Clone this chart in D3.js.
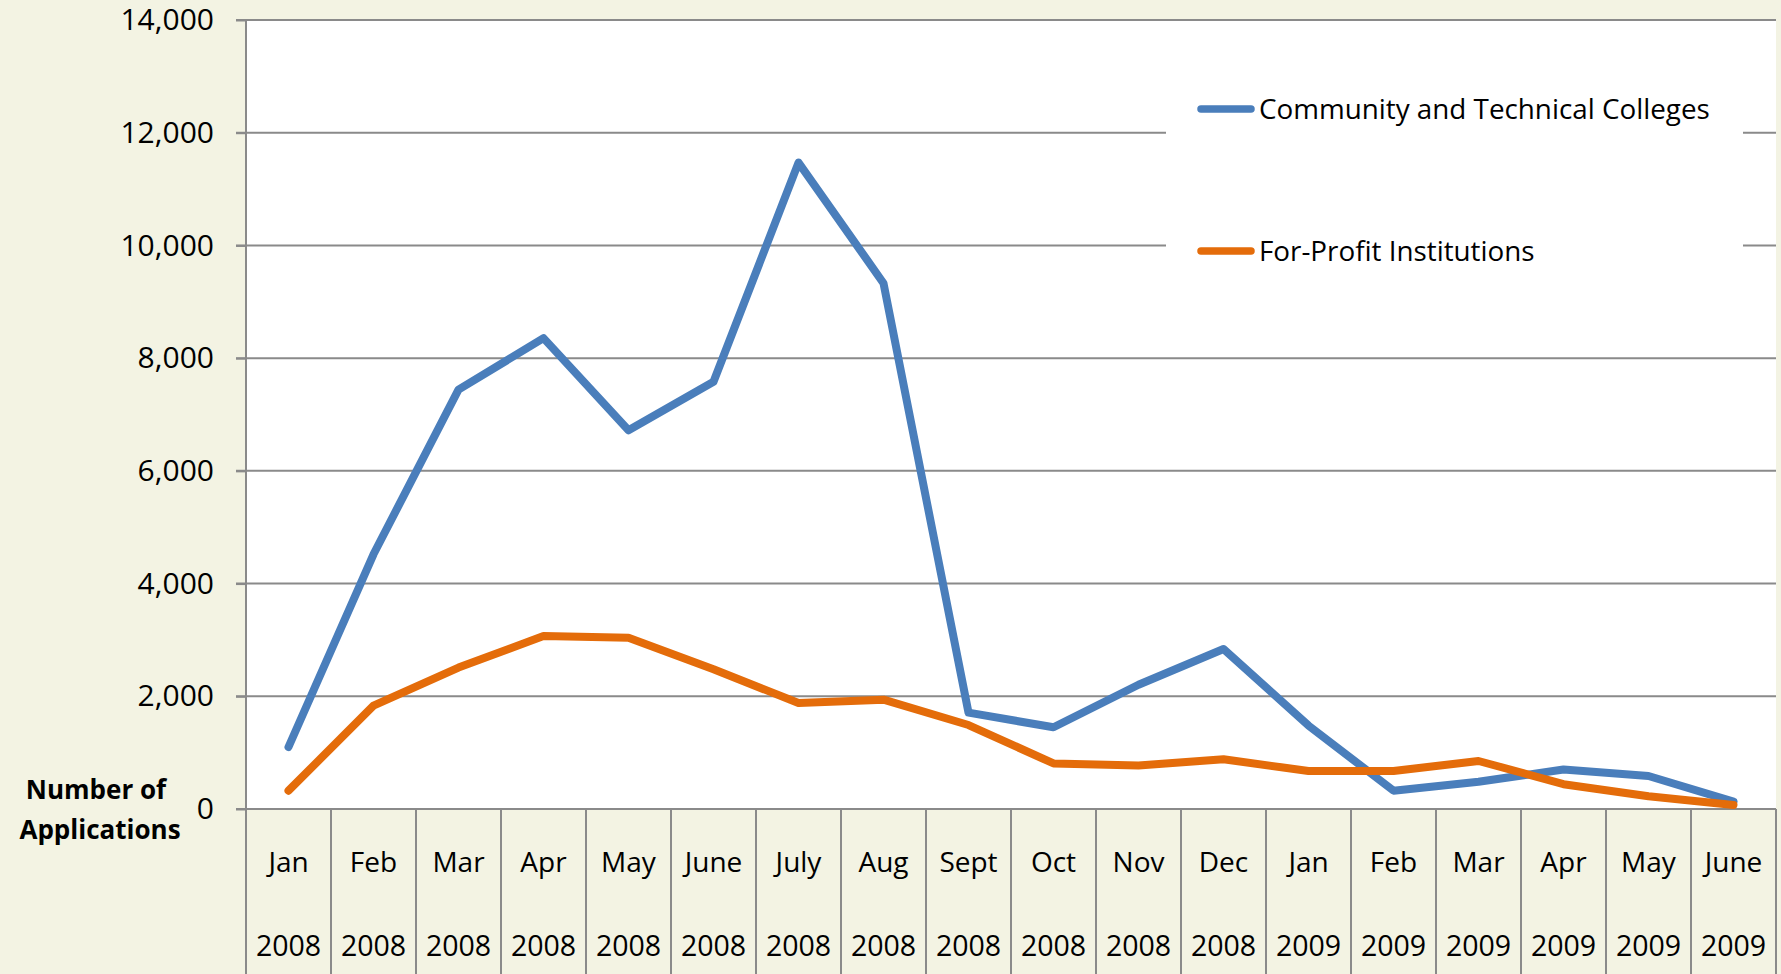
<html>
<head>
<script src="https://cdn.jsdelivr.net/npm/d3@7"></script>
<style>
  body { margin:0; background:#f3f3e3; }
  svg text { font-family:"Open Sans", "Noto Sans", sans-serif; fill:#000; }
</style>
</head>
<body>
<div id="chart"></div>
<script>
// months and years for the two-row category axis
var months = ["Jan","Feb","Mar","Apr","May","June","July","Aug","Sept","Oct","Nov","Dec",
              "Jan","Feb","Mar","Apr","May","June"];
var years  = ["2008","2008","2008","2008","2008","2008","2008","2008","2008","2008","2008","2008",
              "2009","2009","2009","2009","2009","2009"];
var yTicks = [0, 2000, 4000, 6000, 8000, 10000, 12000, 14000];

// series values
var community = [1100, 4520, 7440, 8355, 6720, 7580, 11470, 9330, 1710, 1450, 2205, 2840,
                 1480, 325, 485, 700, 585, 130];
var forProfit = [325, 1834, 2510, 3070, 3040, 2480, 1880, 1940, 1490, 808, 770, 882,
                 675, 675, 852, 440, 225, 72];

var seriesNames = ["Community and Technical Colleges", "For-Profit Institutions"];
var seriesColors = ["#4a7ebb", "#e46c0a"];

var W = 1781, H = 974;
var pL = 246, pR = 1776, pT = 20, pB = 809;

var svg = d3.select("#chart").append("svg")
  .attr("width", W).attr("height", H);

svg.append("rect").attr("width", W).attr("height", H).attr("fill", "#f3f3e3");

var x = d3.scaleBand().domain(d3.range(months.length)).range([pL, pR]).paddingInner(0).paddingOuter(0);
var y = d3.scaleLinear().domain([0, 14000]).range([pB, pT]);

// plot area
svg.append("rect")
  .attr("x", pL).attr("y", pT)
  .attr("width", pR - pL).attr("height", pB - pT)
  .attr("fill", "#fff");

// gridlines
svg.append("g").selectAll("line")
  .data(yTicks.filter(function(d){ return d > 0; }))
  .enter().append("line")
    .attr("x1", pL - 10).attr("x2", pR)
    .attr("y1", function(d){ return y(d); })
    .attr("y2", function(d){ return y(d); })
    .attr("stroke", "#8a8a8a").attr("stroke-width", 2);

// y axis
var yAxis = svg.append("g")
  .attr("transform", "translate(" + pL + ",0)")
  .call(d3.axisLeft(y).tickValues(yTicks).tickFormat(d3.format(",")).tickSize(10).tickPadding(22));
yAxis.select(".domain").attr("stroke", "#8a8a8a").attr("stroke-width", 2)
  .attr("d", "M0," + pT + "V" + H);
yAxis.selectAll(".tick line").attr("stroke", "#8a8a8a").attr("stroke-width", 2);
yAxis.selectAll(".tick text").style("font-size", "30px").attr("font-family", null);

// x axis: baseline plus category separators
svg.append("line")
  .attr("x1", pL - 10).attr("x2", pR)
  .attr("y1", pB).attr("y2", pB)
  .attr("stroke", "#8a8a8a").attr("stroke-width", 2);

svg.append("g").selectAll("line")
  .data(d3.range(1, months.length + 1))
  .enter().append("line")
    .attr("x1", function(i){ return i < months.length ? x(i) : pR; })
    .attr("x2", function(i){ return i < months.length ? x(i) : pR; })
    .attr("y1", pB).attr("y2", H)
    .attr("stroke", "#8a8a8a").attr("stroke-width", 2);

var cats = svg.append("g").selectAll("g")
  .data(months)
  .enter().append("g")
    .attr("transform", function(d, i){ return "translate(" + (x(i) + x.bandwidth() / 2) + ",0)"; });

cats.append("text")
  .attr("y", 862).attr("dy", "0.35em")
  .attr("text-anchor", "middle")
  .style("font-size", "28px")
  .text(function(d){ return d; });

cats.append("text")
  .attr("y", 946).attr("dy", "0.35em")
  .attr("text-anchor", "middle")
  .style("font-size", "28.5px")
  .text(function(d, i){ return years[i]; });

// axis title
var title = svg.append("text")
  .attr("text-anchor", "middle")
  .style("font-size", "26px").style("font-weight", "bold");
title.append("tspan").attr("x", 96).attr("y", 790).attr("dy", "0.35em").text("Number of");
title.append("tspan").attr("x", 100).attr("y", 830).attr("dy", "0.35em").text("Applications");

// lines
var line = d3.line()
  .x(function(d, i){ return x(i) + x.bandwidth() / 2; })
  .y(function(d){ return y(d); });

[community, forProfit].forEach(function(s, k){
  svg.append("path")
    .datum(s)
    .attr("d", line)
    .attr("fill", "none")
    .attr("stroke", seriesColors[k])
    .attr("stroke-width", 8)
    .attr("stroke-linejoin", "round")
    .attr("stroke-linecap", "round");
});

// legend
svg.append("rect")
  .attr("x", 1166).attr("y", 60)
  .attr("width", 577).attr("height", 230)
  .attr("fill", "#fff");

var legend = svg.append("g").selectAll("g")
  .data(seriesNames)
  .enter().append("g")
    .attr("transform", function(d, i){ return "translate(0," + (109 + i * 142) + ")"; });

legend.append("line")
  .attr("x1", 1201).attr("x2", 1251)
  .attr("stroke", function(d, i){ return seriesColors[i]; })
  .attr("stroke-width", 7.5)
  .attr("stroke-linecap", "round");

legend.append("text")
  .attr("x", 1259).attr("dy", "0.35em")
  .style("font-size", "27.8px")
  .text(function(d){ return d; });
</script>
</body>
</html>
